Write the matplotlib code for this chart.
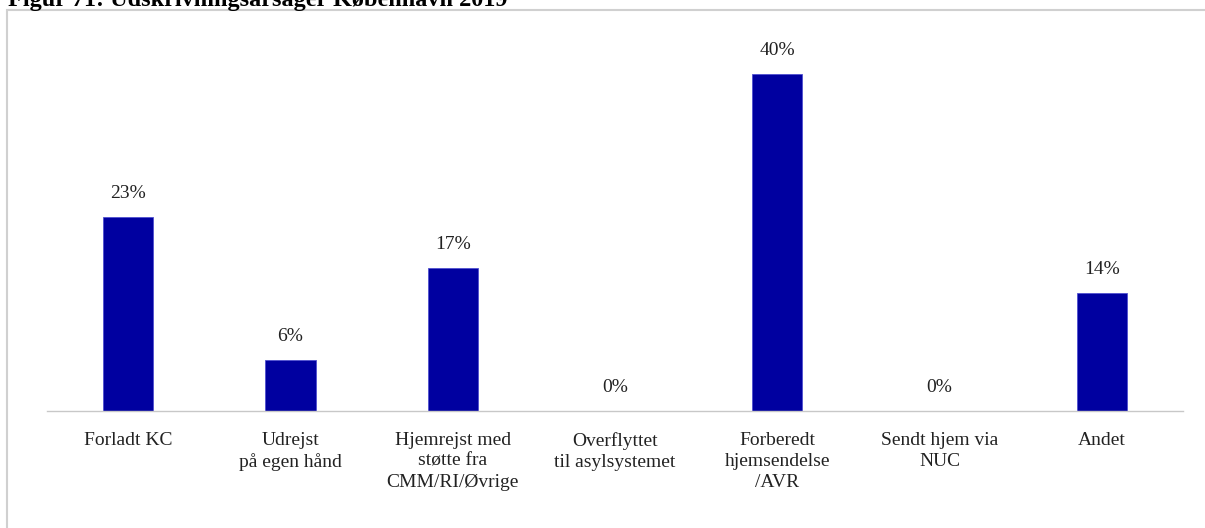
import matplotlib
matplotlib.use('Agg')
import matplotlib.pyplot as plt
from matplotlib.patches import Rectangle

title = 'Figur 71: Udskrivningsårsager København 2019'
categories = ['Forladt KC', 'Udrejst\npå egen hånd', 'Hjemrejst med\nstøtte fra\nCMM/RI/Øvrige',
              'Overflyttet\ntil asylsystemet', 'Forberedt\nhjemsendelse\n/AVR',
              'Sendt hjem via\nNUC', 'Andet']
values = [23, 6, 17, 0, 40, 0, 14]

plt.rcParams['font.family'] = ['Liberation Serif', 'DejaVu Serif']

fig = plt.figure(figsize=(12.05, 5.28), dpi=100)
W, H = 1205, 528

# frame around the chart (only left and top visible)
fig.patches.append(Rectangle((7 / W, -0.1), 1.2, 1 - 9.5 / H + 0.1, transform=fig.transFigure,
                             fill=False, edgecolor='#d0d0d0', linewidth=1.5))
fig.text(8 / W, 1 - 6 / H, title, fontsize=17.5, fontweight='bold', ha='left', va='baseline')

ax = fig.add_axes([47 / W, 117 / H, (1183 - 47) / W, (411 - 32) / H])
x = range(len(categories))
ax.bar(x, values, width=0.31, color='#0000A0', edgecolor='#5050d0', linewidth=0.6, zorder=2)
for xi, v in zip(x, values):
    ax.annotate(f'{v}%', (xi, v), xytext=(0, 11), textcoords='offset points',
                ha='center', va='bottom', fontsize=14, color='#222222')

ax.set_xlim(-0.5, len(categories) - 0.5)
ax.set_ylim(0, 45)
ax.set_yticks([])
ax.set_xticks(list(x))
labels = ax.set_xticklabels(categories, fontsize=14, color='#222222')
for lab in labels:
    lab.set_linespacing(1.32)
ax.tick_params(axis='x', length=0, pad=15)
for s in ['top', 'right', 'left']:
    ax.spines[s].set_visible(False)
ax.spines['bottom'].set_color('#c8c8c8')
ax.spines['bottom'].set_linewidth(1.0)

fig.savefig('out.png', dpi=100)
